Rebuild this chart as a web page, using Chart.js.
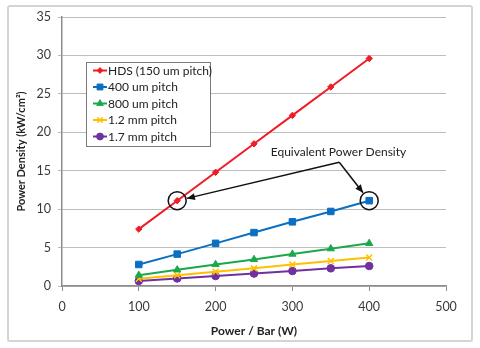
<!DOCTYPE html>
<html>
<head>
<meta charset="utf-8">
<script src="https://cdn.jsdelivr.net/npm/chart.js@4.4.1/dist/chart.umd.min.js"></script>
<style>
  html, body { margin: 0; padding: 0; background: #fff; }
  #wrap { position: relative; width: 480px; height: 348px; }
  #frame { position: absolute; left: 7px; top: 5px; width: 466px; height: 337px;
           border: 2px solid #d4d4d4; border-radius: 3px; box-sizing: border-box; }
  canvas { position: absolute; left: 0; top: 0; }
</style>
</head>
<body>
<div id="wrap">
  <div id="frame"></div>
  <canvas id="chart" width="480" height="348"></canvas>
</div>
<script>
// Power per bar (W)
const power = [100, 150, 200, 250, 300, 350, 400];

// Power density (kW/cm²) per pitch
const hds150 = [7.4, 11.1, 14.8, 18.5, 22.2, 25.9, 29.6];
const pitch400 = [2.8, 4.15, 5.55, 6.95, 8.35, 9.7, 11.1];
const pitch800 = [1.4, 2.1, 2.8, 3.45, 4.15, 4.85, 5.55];
const pitch1200 = [0.95, 1.4, 1.85, 2.3, 2.8, 3.25, 3.7];
const pitch1700 = [0.65, 0.98, 1.3, 1.62, 1.95, 2.3, 2.6];

const seriesNames = ['HDS (150 um pitch)', '400 um pitch', '800 um pitch', '1.2 mm pitch', '1.7 mm pitch'];
const xTicks = [0, 100, 200, 300, 400, 500];
const yTicks = [0, 5, 10, 15, 20, 25, 30, 35];

const FONT = "Lato, 'Open Sans', sans-serif";

function pts(ys) {
    return power.map((p, i) => ({ x: p, y: ys[i] }));
}

const styles = [
    { color: '#ee1c24', pointStyle: 'rectRot', radius: 3.2 },
    { color: '#0a6fc2', pointStyle: 'rect', radius: 4.6 },
    { color: '#1ca84a', pointStyle: 'triangle', radius: 4.2 },
    { color: '#ffc000', pointStyle: 'crossRot', radius: 4.2 },
    { color: '#7030a0', pointStyle: 'circle', radius: 3.8 }
];
const values = [hds150, pitch400, pitch800, pitch1200, pitch1700];

const datasets = values.map((v, i) => ({
    label: seriesNames[i],
    data: pts(v),
    borderColor: styles[i].color,
    backgroundColor: styles[i].color,
    borderWidth: 2,
    pointStyle: styles[i].pointStyle,
    pointRadius: styles[i].radius,
    pointBorderWidth: styles[i].pointStyle === 'crossRot' ? 1.5 : 1,
    pointBorderColor: styles[i].color,
    showLine: true,
    tension: 0
}));

// Callout: label text and arrow apex, in data units
const calloutText = 'Equivalent Power Density';
const calloutLabel = { x: 360, y: 17.4 };
const calloutApex = { x: 361, y: 16.1 };
const circled = [
    { x: power[1], y: hds150[1] },
    { x: power[6], y: pitch400[6] }
];

const calloutPlugin = {
    id: 'callout',
    afterDatasetsDraw(chart) {
        const { ctx, scales: { x, y } } = chart;
        const r = 9;
        ctx.save();
        ctx.strokeStyle = '#111';
        ctx.fillStyle = '#111';
        ctx.lineWidth = 1.5;
        const ax = x.getPixelForValue(calloutApex.x);
        const ay = y.getPixelForValue(calloutApex.y);
        circled.forEach(c => {
            const cx = x.getPixelForValue(c.x);
            const cy = y.getPixelForValue(c.y);
            ctx.beginPath();
            ctx.arc(cx, cy, r, 0, Math.PI * 2);
            ctx.stroke();
            // arrow from apex to circle edge
            const ang = Math.atan2(cy - ay, cx - ax);
            const tx = cx - Math.cos(ang) * (r + 1);
            const ty = cy - Math.sin(ang) * (r + 1);
            ctx.beginPath();
            ctx.moveTo(ax, ay);
            ctx.lineTo(tx, ty);
            ctx.stroke();
            const hl = 8, hw = 3.5;
            const bx = tx - Math.cos(ang) * hl;
            const by = ty - Math.sin(ang) * hl;
            ctx.beginPath();
            ctx.moveTo(tx, ty);
            ctx.lineTo(bx + Math.sin(ang) * hw, by - Math.cos(ang) * hw);
            ctx.lineTo(bx - Math.sin(ang) * hw, by + Math.cos(ang) * hw);
            ctx.closePath();
            ctx.fill();
        });
        ctx.font = '12px ' + FONT;
        ctx.fillStyle = '#222';
        ctx.textAlign = 'center';
        ctx.textBaseline = 'middle';
        ctx.fillText(calloutText, x.getPixelForValue(calloutLabel.x), y.getPixelForValue(calloutLabel.y));
        ctx.restore();
    }
};

// Boxed legend inside the plot area
const boxLegendPlugin = {
    id: 'boxLegend',
    afterDraw(chart) {
        const { ctx } = chart;
        const bx = 86, by = 62, bw = 124, bh = 84;
        ctx.save();
        ctx.fillStyle = '#fff';
        ctx.fillRect(bx, by, bw, bh);
        ctx.strokeStyle = '#7a7a7a';
        ctx.lineWidth = 1;
        ctx.strokeRect(bx + 0.5, by + 0.5, bw, bh);
        ctx.font = '12px ' + FONT;
        ctx.textBaseline = 'middle';
        chart.data.datasets.forEach((ds, i) => {
            const ly = by + 8.5 + i * 16.5;
            ctx.strokeStyle = ds.borderColor;
            ctx.fillStyle = ds.borderColor;
            ctx.lineWidth = 2;
            ctx.beginPath();
            ctx.moveTo(bx + 7, ly);
            ctx.lineTo(bx + 21, ly);
            ctx.stroke();
            ctx.lineWidth = ds.pointBorderWidth;
            Chart.helpers.drawPoint(ctx, {
                pointStyle: ds.pointStyle,
                radius: ds.pointRadius * 0.9,
                borderWidth: ds.pointBorderWidth,
                rotation: 0
            }, bx + 14, ly);
            ctx.fillStyle = '#222';
            ctx.fillText(ds.label, bx + 22, ly + 0.5);
        });
        ctx.restore();
    }
};

new Chart(document.getElementById('chart'), {
    type: 'scatter',
    data: { datasets },
    plugins: [calloutPlugin, boxLegendPlugin],
    options: {
        responsive: false,
        animation: false,
        layout: { padding: { left: 0, right: 34, top: 17, bottom: 0 } },
        plugins: { legend: { display: false }, tooltip: { enabled: false } },
        scales: {
            x: {
                type: 'linear',
                min: 0, max: 500,
                afterBuildTicks: s => { s.ticks = xTicks.map(v => ({ value: v })); },
                afterFit: s => { s.height = 62; },
                grid: { drawOnChartArea: false, drawTicks: true, tickLength: 5, color: '#8c8c8c', lineWidth: 1 },
                border: { color: '#8c8c8c', width: 1.5 },
                ticks: { color: '#3a3a3a', font: { family: FONT, size: 12.5 }, padding: 8 },
                title: {
                    display: true, text: 'Power / Bar (W)', color: '#222',
                    font: { family: FONT, size: 12, weight: 'bold' }, padding: { top: 10, bottom: 10 }
                }
            },
            y: {
                type: 'linear',
                min: 0, max: 35,
                afterBuildTicks: s => { s.ticks = yTicks.map(v => ({ value: v })); },
                afterFit: s => { s.width = 62; },
                grid: { color: '#bdbdbd', lineWidth: 1, tickLength: 4 },
                border: { color: '#8c8c8c', width: 1.5 },
                ticks: { color: '#3a3a3a', font: { family: FONT, size: 12.5 }, padding: 7 },
                title: {
                    display: true, text: 'Power Density (kW/cm²)', color: '#222',
                    font: { family: FONT, size: 11, weight: 'bold' }, padding: { top: 15, bottom: 0 }
                }
            }
        }
    }
});
</script>
</body>
</html>
